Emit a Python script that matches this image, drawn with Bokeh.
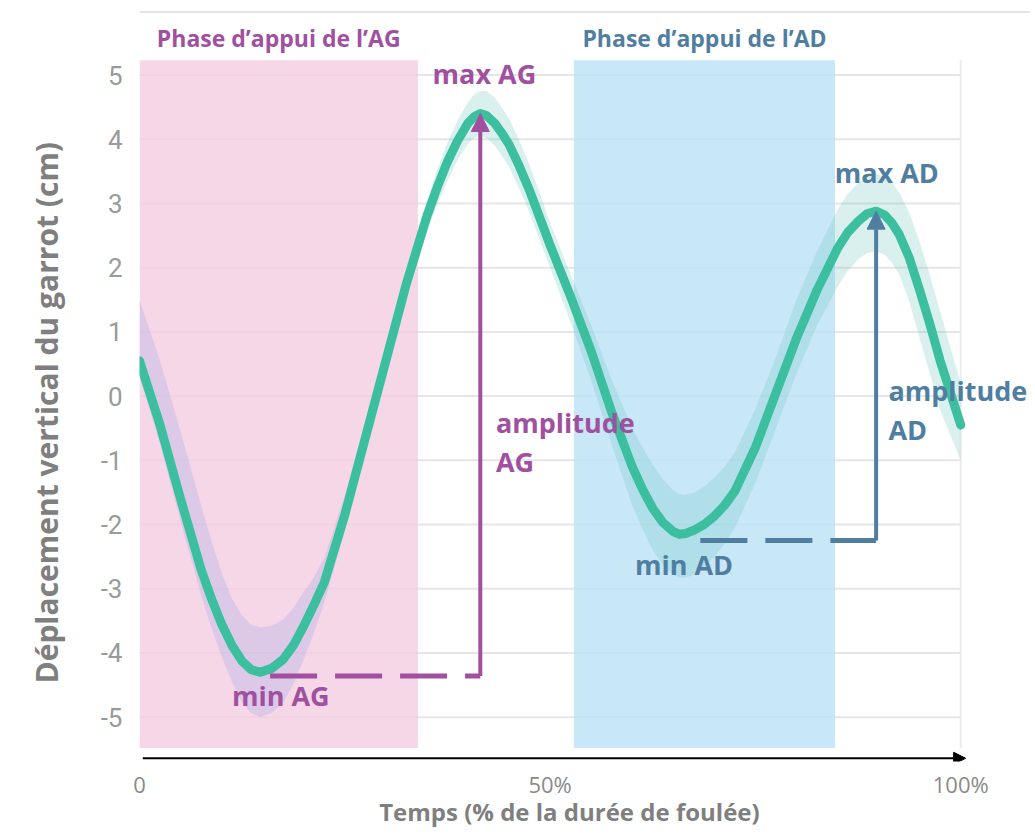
from bokeh.plotting import figure
from bokeh.models import Range1d, FixedTicker, Label, Arrow, NormalHead
from bokeh.embed import file_html
from bokeh.resources import INLINE

# ---- data ----
temps = [0, 2.5, 5, 7.5, 8.75, 10, 11.25, 12.5, 13.6, 14.7, 16.1, 17.5, 18.75, 20, 21.25,
         22.5, 25, 27.5, 30, 32.5, 35, 36.25, 37.5, 38.75, 40, 40.75, 41.5, 42.25, 43.25,
         44.25, 45, 46.25, 47.5, 50, 52.5, 55, 57.5, 60, 61.25, 62.5, 63.75, 65, 65.7,
         66.5, 67.5, 68.75, 70, 71.25, 72.5, 75, 77.5, 80, 82.5, 85, 86.25, 87.5, 88.6,
         89.7, 90.75, 91.6, 92.5, 93.75, 95, 96.25, 97.5, 100]
deplacement = [0.55, -0.45, -1.60, -2.70, -3.15, -3.55, -3.88, -4.13, -4.26, -4.30, -4.24,
               -4.10, -3.88, -3.58, -3.25, -2.90, -1.85, -0.65, 0.55, 1.75, 2.80, 3.25,
               3.65, 3.98, 4.25, 4.35, 4.40, 4.37, 4.25, 4.07, 3.92, 3.58, 3.20, 2.35,
               1.55, 0.70, -0.25, -1.10, -1.45, -1.75, -1.97, -2.11, -2.15, -2.14, -2.09,
               -2.00, -1.87, -1.70, -1.48, -0.80, 0.05, 0.90, 1.65, 2.30, 2.55, 2.72, 2.84,
               2.88, 2.82, 2.70, 2.52, 2.15, 1.65, 1.12, 0.55, -0.45]
bande_basse = [0.30, -0.75, -1.95, -3.10, -3.60, -4.05, -4.45, -4.78, -4.93, -5.00, -4.93,
               -4.78, -4.48, -4.10, -3.68, -3.22, -2.10, -0.85, 0.35, 1.55, 2.55, 2.98,
               3.35, 3.68, 3.93, 4.02, 4.05, 4.02, 3.90, 3.72, 3.57, 3.23, 2.85, 2.00,
               1.15, 0.25, -0.75, -1.70, -2.07, -2.40, -2.63, -2.78, -2.83, -2.83, -2.78,
               -2.66, -2.50, -2.30, -2.05, -1.35, -0.50, 0.35, 1.10, 1.70, 1.95, 2.13, 2.23,
               2.25, 2.20, 2.08, 1.90, 1.47, 0.90, 0.35, -0.22, -1.00]
bande_haute = [1.50, 0.55, -0.55, -1.70, -2.25, -2.75, -3.15, -3.42, -3.56, -3.60, -3.58,
               -3.48, -3.30, -3.05, -2.82, -2.52, -1.55, -0.40, 0.80, 2.00, 3.05, 3.52,
               3.95, 4.30, 4.58, 4.70, 4.75, 4.75, 4.65, 4.47, 4.32, 3.98, 3.60, 2.70,
               1.90, 1.10, 0.25, -0.50, -0.80, -1.07, -1.30, -1.47, -1.53, -1.54, -1.50,
               -1.41, -1.27, -1.10, -0.88, -0.20, 0.60, 1.50, 2.25, 2.90, 3.15, 3.32, 3.42,
               3.46, 3.42, 3.33, 3.18, 2.85, 2.40, 1.88, 1.32, 0.20]
phase_AG = [0, 33.9]
phase_AD = [52.9, 84.7]
y_ticks = [-5, -4, -3, -2, -1, 0, 1, 2, 3, 4, 5]
x_ticks = [0, 50, 100]
x_tick_labels = ["0", "50%", "100%"]
assert len(temps) == len(deplacement) == len(bande_basse) == len(bande_haute)

# ---- styles ----
PURPLE = "#a0509f"
SLATE = "#4f7ea0"
TEAL = "#3cbf9f"
GRAY_T = "#7f7f7f"
X_MAX = 108.5
Y_MIN, Y_MAX = -5.69, 6.02
RECT_BOT, RECT_TOP = -5.48, 5.23
NB = "\u00a0"

p = figure(width=1035, height=837, x_range=Range1d(0, X_MAX), y_range=Range1d(Y_MIN, Y_MAX),
           output_backend="svg", toolbar_location=None,
           min_border_left=139, min_border_right=5, min_border_top=9, min_border_bottom=76)
p.outline_line_color = None
p.xgrid.grid_line_color = None
p.ygrid.grid_line_color = None

# horizontal grid (limited to the time span)
p.segment(x0=[x_ticks[0]] * len(y_ticks), x1=[x_ticks[-1]] * len(y_ticks), y0=y_ticks, y1=y_ticks,
          line_color="#e6e6e6", line_width=2)
# top separator
p.line([0, X_MAX], [Y_MAX - 0.04, Y_MAX - 0.04], line_color="#dcdcdc", line_width=1.5)

# phases
p.quad(left=[phase_AG[0]], right=[phase_AG[1]], bottom=[RECT_BOT], top=[RECT_TOP],
       fill_color="#f2cde2", fill_alpha=0.8, line_color=None)
p.quad(left=[phase_AD[0]], right=[phase_AD[1]], bottom=[RECT_BOT], top=[RECT_TOP],
       fill_color="#bae1f5", fill_alpha=0.8, line_color=None)
p.line([x_ticks[-1], x_ticks[-1]], [RECT_BOT, RECT_TOP], line_color="#ececec", line_width=2)

# variability band
k = max(i for i, t in enumerate(temps) if t <= phase_AG[1]) + 1
p.varea(x=temps[:k + 1], y1=bande_basse[:k + 1], y2=bande_haute[:k + 1],
        fill_color="#9fa8e6", fill_alpha=0.3)
p.varea(x=temps[k:], y1=bande_basse[k:], y2=bande_haute[k:],
        fill_color="#66c2c0", fill_alpha=0.25)

# mean curve
p.line(temps, deplacement, line_color=TEAL, line_width=9, line_join="round", line_cap="round")

# extrema
half = [i for i, t in enumerate(temps) if t <= 50]
rest = [i for i, t in enumerate(temps) if t > 50]
i_min_ag = min(half, key=lambda i: deplacement[i])
i_max_ag = max(half, key=lambda i: deplacement[i])
i_min_ad = min(rest, key=lambda i: deplacement[i])
i_max_ad = max(rest, key=lambda i: deplacement[i])

def amplitude(i_min, i_max, color, start_off, drop):
    x0, y0 = temps[i_min], deplacement[i_min] - drop
    x1, y1 = temps[i_max], deplacement[i_max]
    p.line([x0 + start_off, x1], [y0, y0], line_color=color, line_width=5, line_dash="47 18")
    p.add_layout(Arrow(end=NormalHead(size=18, fill_color=color, line_color=color),
                       x_start=x1, y_start=y0, x_end=x1, y_end=y1,
                       line_color=color, line_width=4))

amplitude(i_min_ag, i_max_ag, PURPLE, 1.2, 0.06)
amplitude(i_min_ad, i_max_ad, SLATE, 2.6, 0.10)

def lab(x, y, text, color, size="27px", align="left"):
    p.add_layout(Label(x=x, y=y, text=text, text_color=color, text_font="Open Sans",
                       text_font_style="bold", text_font_size=size,
                       text_align=align, text_baseline="middle"))

lab(sum(phase_AG) / 2, 5.57, "Phase d’appui de l’AG", PURPLE, "23px", "center")
lab(sum(phase_AD) / 2, 5.57, "Phase d’appui de l’AD", SLATE, "23px", "center")
lab(temps[i_max_ag] + 0.5, 5.02, "max AG", PURPLE, align="center")
lab(temps[i_max_ag] + 1.9, -0.41, "amplitude", PURPLE)
lab(temps[i_max_ag] + 1.9, -1.02, "AG", PURPLE)
lab(temps[i_min_ag] + 2.5, -4.66, "min AG", PURPLE, align="center")
lab(temps[i_max_ad] + 1.3, 3.48, "max AD", SLATE, align="center")
lab(temps[i_max_ad] + 1.5, 0.09, "amplitude", SLATE)
lab(temps[i_max_ad] + 1.5, -0.52, "AD", SLATE)
lab(temps[i_min_ad] + 0.6, -2.63, "min AD", SLATE, align="center")

# time axis drawn as an arrow
p.add_layout(Arrow(end=NormalHead(size=12, fill_color="black", line_color="black"),
                   x_start=x_ticks[0] + 0.4, y_start=Y_MIN + 0.05,
                   x_end=x_ticks[-1] + 0.6, y_end=Y_MIN + 0.05,
                   line_color="black", line_width=2))

# axes
p.xaxis.ticker = FixedTicker(ticks=x_ticks)
p.xaxis.major_label_overrides = {t: s for t, s in zip(x_ticks, x_tick_labels)}
p.xaxis.axis_line_color = None
p.xaxis.major_tick_line_color = None
p.xaxis.minor_tick_line_color = None
p.xaxis.major_tick_out = 0
p.xaxis.major_label_standoff = 7
p.xaxis.major_label_text_font = "Open Sans"
p.xaxis.major_label_text_font_size = "22px"
p.xaxis.major_label_text_color = "#8a8a8a"
p.xaxis.axis_label = "Temps (% de la durée de foulée)" + NB * 5
p.xaxis.axis_label_text_font = "Open Sans"
p.xaxis.axis_label_text_font_style = "bold"
p.xaxis.axis_label_text_font_size = "24px"
p.xaxis.axis_label_text_color = GRAY_T
p.xaxis.axis_label_standoff = -7

p.yaxis.ticker = FixedTicker(ticks=y_ticks)
p.yaxis.major_label_overrides = {t: str(t) for t in y_ticks}
p.yaxis.axis_line_color = None
p.yaxis.major_tick_line_color = None
p.yaxis.minor_tick_line_color = None
p.yaxis.major_tick_out = 0
p.yaxis.major_label_standoff = 17
p.yaxis.major_label_text_font = "Roboto"
p.yaxis.major_label_text_font_size = "26px"
p.yaxis.major_label_text_color = "#9a9a9a"
p.yaxis.axis_label = "Déplacement vertical du garrot (cm)" + NB * 7
p.yaxis.axis_label_text_font = "Open Sans"
p.yaxis.axis_label_text_font_style = "bold"
p.yaxis.axis_label_text_font_size = "30px"
p.yaxis.axis_label_text_color = GRAY_T
p.yaxis.axis_label_standoff = 31

open("out.html", "w").write(file_html(p, INLINE))
